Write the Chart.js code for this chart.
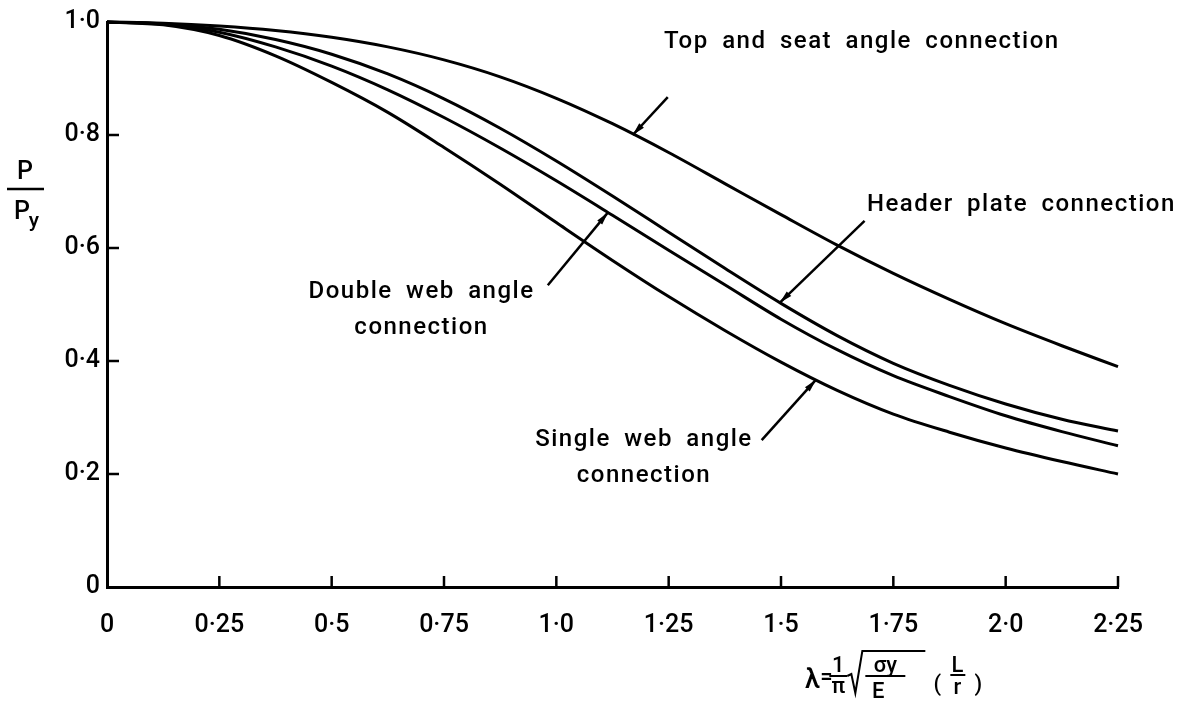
<!DOCTYPE html>
<html><head><meta charset="utf-8">
<script src="https://cdn.jsdelivr.net/npm/chart.js@4.4.1/dist/chart.umd.min.js"></script>
<style>html,body{margin:0;padding:0;background:#fff;}canvas{display:block;}</style>
</head><body>
<canvas id="c" width="1198" height="702"></canvas>
<script>
// ---- data ----
const lambdaValues   = [0, 0.125, 0.25, 0.375, 0.5, 0.625, 0.75, 0.875, 1.0, 1.125, 1.25, 1.375, 1.5, 1.625, 1.75, 1.875, 2.0, 2.125, 2.25];
const topSeatAngle   = [1.000, 0.998, 0.993, 0.985, 0.973, 0.956, 0.933, 0.903, 0.865, 0.820, 0.769, 0.714, 0.659, 0.605, 0.555, 0.509, 0.466, 0.427, 0.390];
const headerPlate    = [1.000, 0.997, 0.987, 0.969, 0.943, 0.908, 0.864, 0.812, 0.754, 0.692, 0.628, 0.564, 0.502, 0.445, 0.396, 0.357, 0.324, 0.297, 0.276];
const doubleWebAngle = [1.000, 0.996, 0.982, 0.956, 0.922, 0.880, 0.831, 0.777, 0.719, 0.658, 0.596, 0.535, 0.474, 0.420, 0.374, 0.337, 0.303, 0.275, 0.250];
const singleWebAngle = [1.000, 0.995, 0.976, 0.940, 0.893, 0.840, 0.778, 0.713, 0.645, 0.578, 0.514, 0.454, 0.398, 0.348, 0.306, 0.274, 0.246, 0.222, 0.200];
const seriesNames = ['Top and seat angle connection', 'Header plate connection', 'Double web angle connection', 'Single web angle connection'];
const xTickValues = [0, 0.25, 0.5, 0.75, 1.0, 1.25, 1.5, 1.75, 2.0, 2.25];
const xTickLabels = ['0', '0·25', '0·5', '0·75', '1·0', '1·25', '1·5', '1·75', '2·0', '2·25'];
const yTickValues = [0, 0.2, 0.4, 0.6, 0.8, 1.0];
const yTickLabels = ['0', '0·2', '0·4', '0·6', '0·8', '1·0'];

// annotation labels: text lines, label anchor and arrow (in data units)
const annotations = [
  { lines: ['Top and seat angle connection'], at: [1.68, 0.964], from: [1.248, 0.867], to: [1.170, 0.800] },
  { lines: ['Header plate connection'], at: [2.035, 0.676], from: [1.686, 0.648], to: [1.497, 0.503] },
  { lines: ['Double web angle', 'connection'], at: [0.70, 0.522], from: [0.981, 0.534], to: [1.115, 0.663] },
  { lines: ['Single web angle', 'connection'], at: [1.195, 0.260], from: [1.457, 0.260], to: [1.578, 0.367] }
];

const FONT = 'Roboto';
Chart.defaults.font.family = FONT;
Chart.defaults.color = '#000';

const seriesValues = [topSeatAngle, headerPlate, doubleWebAngle, singleWebAngle];
const datasets = seriesValues.map((vals, k) => ({
  label: seriesNames[k],
  data: lambdaValues.map((x, i) => ({ x, y: vals[i] })),
  borderColor: '#000', borderWidth: 3, pointRadius: 0, fill: false,
  cubicInterpolationMode: 'monotone', clip: false
}));

const innerTicks = {
  id: 'innerTicks',
  afterDraw(chart) {
    const { ctx, scales: { x, y } } = chart;
    ctx.save();
    ctx.strokeStyle = '#000'; ctx.lineWidth = 2.5; ctx.lineCap = 'butt';
    xTickValues.forEach(v => {
      if (v === 0) return;
      const px = x.getPixelForValue(v);
      ctx.beginPath(); ctx.moveTo(px, y.bottom); ctx.lineTo(px, y.bottom - 11); ctx.stroke();
    });
    yTickValues.forEach(v => {
      if (v === 0 || v === 1) return;
      const py = y.getPixelForValue(v);
      ctx.beginPath(); ctx.moveTo(x.left, py); ctx.lineTo(x.left + 12, py); ctx.stroke();
    });
    ctx.restore();
  }
};

function arrow(ctx, x1, y1, x2, y2) {
  ctx.beginPath(); ctx.moveTo(x1, y1); ctx.lineTo(x2, y2); ctx.stroke();
  const a = Math.atan2(y2 - y1, x2 - x1);
  const L = 13, W = 3.2;
  const bx = x2 - L * Math.cos(a), by = y2 - L * Math.sin(a);
  ctx.beginPath();
  ctx.moveTo(x2, y2);
  ctx.lineTo(bx + W * Math.sin(a), by - W * Math.cos(a));
  ctx.lineTo(bx - W * Math.sin(a), by + W * Math.cos(a));
  ctx.closePath(); ctx.fill();
}

const labelsPlugin = {
  id: 'labelsPlugin',
  afterDraw(chart) {
    const { ctx, scales: { x, y } } = chart;
    ctx.save();
    ctx.fillStyle = '#000'; ctx.strokeStyle = '#000'; ctx.lineWidth = 2.5;
    ctx.font = '500 24px ' + FONT; ctx.textAlign = 'center'; ctx.textBaseline = 'middle';
    ctx.letterSpacing = '1.5px';
    ctx.wordSpacing = '6px';
    annotations.forEach(a => {
      const cx = x.getPixelForValue(a.at[0]), cy = y.getPixelForValue(a.at[1]);
      a.lines.forEach((t, i) => ctx.fillText(t, cx, cy + i * 36));
      arrow(ctx, x.getPixelForValue(a.from[0]), y.getPixelForValue(a.from[1]),
                 x.getPixelForValue(a.to[0]), y.getPixelForValue(a.to[1]));
    });
    ctx.letterSpacing = '0px';
    ctx.wordSpacing = '0px';

    // y-axis title: P / P_y
    ctx.font = '500 25px ' + FONT;
    ctx.fillText('P', 25, 173);
    ctx.beginPath(); ctx.moveTo(7, 189); ctx.lineTo(44, 189); ctx.stroke();
    ctx.fillText('P', 22, 213);
    ctx.font = '500 21px ' + FONT;
    ctx.fillText('y', 34, 222);

    // x-axis title: λ = (1/π) √(σy/E) (L/r)
    const bx = x.getPixelForValue(1.75), by = y.bottom;
    ctx.textBaseline = 'alphabetic';
    ctx.font = '500 27px ' + FONT;
    ctx.fillText('λ', bx - 81, by + 101);
    ctx.font = '500 22px ' + FONT;
    ctx.fillText('=', bx - 67, by + 97);
    ctx.fillText('1', bx - 55, by + 85);
    ctx.fillText('π', bx - 55, by + 106);
    ctx.lineWidth = 2;
    ctx.beginPath(); ctx.moveTo(bx - 64, by + 89); ctx.lineTo(bx - 46, by + 89); ctx.stroke();
    // root sign
    ctx.beginPath();
    ctx.moveTo(bx - 46, by + 89); ctx.lineTo(bx - 42, by + 87); ctx.lineTo(bx - 38, by + 106);
    ctx.lineTo(bx - 31, by + 64); ctx.lineTo(bx + 32, by + 64); ctx.stroke();
    ctx.fillText('σy', bx - 8, by + 85);
    ctx.beginPath(); ctx.moveTo(bx - 28, by + 89); ctx.lineTo(bx + 12, by + 89); ctx.stroke();
    ctx.fillText('E', bx - 15, by + 111);
    ctx.fillText('(', bx + 44, by + 104);
    ctx.fillText('L', bx + 64, by + 85);
    ctx.beginPath(); ctx.moveTo(bx + 57, by + 88); ctx.lineTo(bx + 72, by + 88); ctx.stroke();
    ctx.fillText('r', bx + 64, by + 107);
    ctx.fillText(')', bx + 85, by + 104);
    ctx.restore();
  }
};

new Chart(document.getElementById('c'), {
  type: 'line',
  data: { datasets },
  options: {
    responsive: false, animation: false, devicePixelRatio: 1,
    layout: { padding: { left: 0, top: 22, right: 80, bottom: 0 } },
    plugins: { legend: { display: false }, tooltip: { enabled: false } },
    scales: {
      x: {
        type: 'linear', min: 0, max: 2.25,
        afterBuildTicks: s => { s.ticks = xTickValues.map(v => ({ value: v })); },
        ticks: { callback: (v, i) => xTickLabels[i], font: { size: 25, weight: '500' }, color: '#000', padding: 24, maxRotation: 0, autoSkip: false },
        grid: { display: false, drawTicks: false },
        border: { display: true, color: '#000', width: 3 },
        afterFit: s => { s.height = 115; }
      },
      y: {
        min: 0, max: 1,
        afterBuildTicks: s => { s.ticks = yTickValues.map(v => ({ value: v })); },
        ticks: { callback: (v, i) => yTickLabels[i], font: { size: 25, weight: '500' }, color: '#000', padding: 7, autoSkip: false },
        grid: { display: false, drawTicks: false },
        border: { display: true, color: '#000', width: 3 },
        afterFit: s => { s.width = 107; }
      }
    }
  },
  plugins: [innerTicks, labelsPlugin]
});
</script>
</body></html>
